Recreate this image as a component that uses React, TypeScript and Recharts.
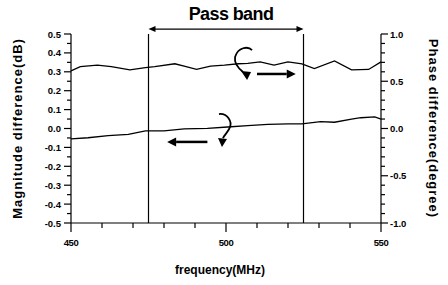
import React from 'react'
import {
  ComposedChart, Line, XAxis, YAxis, ReferenceLine, ReferenceDot
} from 'recharts'

const FONT = '"Liberation Sans", Arial, sans-serif'

// phase difference (right axis, degree)
const phaseFreq = [450, 453, 458.5, 463, 469, 474, 477, 483.5, 486.5, 490.5, 495, 499.5, 504, 507, 511, 515.5, 520, 524.5, 528.5, 535, 540.5, 546, 550]
const phaseValues = [0.61, 0.655, 0.67, 0.655, 0.62, 0.645, 0.655, 0.685, 0.66, 0.625, 0.66, 0.67, 0.685, 0.69, 0.705, 0.67, 0.705, 0.685, 0.635, 0.715, 0.62, 0.625, 0.705]

// magnitude difference (left axis, dB)
const magFreq = [450, 455.5, 462, 468.5, 474, 480, 486.5, 494, 500.5, 507, 513.5, 520, 524.5, 530.5, 535, 540.5, 543.5, 548, 550]
const magValues = [-0.055, -0.049, -0.038, -0.031, -0.013, -0.013, -0.002, 0.001, 0.008, 0.015, 0.022, 0.025, 0.025, 0.036, 0.033, 0.05, 0.057, 0.061, 0.05]

const passBand = [475, 525]

const leftTicks = [-0.5, -0.45, -0.4, -0.35, -0.3, -0.25, -0.2, -0.15, -0.1, -0.05, 0, 0.05, 0.1, 0.15, 0.2, 0.25, 0.3, 0.35, 0.4, 0.45, 0.5]
const rightTicks = [-1, -0.9, -0.8, -0.7, -0.6, -0.5, -0.4, -0.3, -0.2, -0.1, 0, 0.1, 0.2, 0.3, 0.4, 0.5, 0.6, 0.7, 0.8, 0.9, 1]
const freqTicks = [450, 460, 470, 480, 490, 500, 510, 520, 530, 540, 550]

const phaseData = phaseFreq.map((f, i) => ({ f, v: phaseValues[i] }))
const magData = magFreq.map((f, i) => ({ f, v: magValues[i] }))

const isStep = (v: number, step: number) => Math.abs(v / step - Math.round(v / step)) < 1e-6

function LeftTick({ x, y, payload }: any) {
  const v = payload.value
  const major = isStep(v, 0.1)
  return (
    <g>
      <line x1={x - (major ? 7 : 4)} x2={x} y1={y} y2={y} stroke="#000" strokeWidth={1.2} />
      {major && (
        <text x={x - 10} y={y} textAnchor="end" dominantBaseline="central" fontSize={9.5} fontWeight="bold" fontFamily={FONT} fill="#000">
          {v.toFixed(1)}
        </text>
      )}
    </g>
  )
}

function RightTick({ x, y, payload }: any) {
  const v = payload.value
  const major = isStep(v, 0.5)
  return (
    <g>
      <line x1={x} x2={x + (major ? 7 : 4)} y1={y} y2={y} stroke="#000" strokeWidth={1.2} />
      {major && (
        <text x={x + 9} y={y} textAnchor="start" dominantBaseline="central" fontSize={9.5} fontWeight="bold" fontFamily={FONT} fill="#000">
          {v.toFixed(1)}
        </text>
      )}
    </g>
  )
}

function FreqTick({ x, y, payload }: any) {
  const v = payload.value
  const major = isStep(v, 50)
  return (
    <g>
      <line x1={x} x2={x} y1={y} y2={y + (major ? 9 : 5)} stroke="#000" strokeWidth={1.2} />
      {major && (
        <text x={x} y={y + 19} textAnchor="middle" dominantBaseline="central" fontSize={9.5} fontWeight="bold" fontFamily={FONT} fill="#000" letterSpacing={-0.5}>
          {v}
        </text>
      )}
    </g>
  )
}

// thin double arrow with the "Pass band" caption
function PassBandArrow({ x1, y1, x2 }: any) {
  return (
    <g>
      <line x1={x1 + 5} x2={x2 - 5} y1={y1} y2={y1} stroke="#000" strokeWidth={1.2} />
      <polygon points={`${x1},${y1} ${x1 + 7},${y1 - 3} ${x1 + 7},${y1 + 3}`} fill="#000" />
      <polygon points={`${x2},${y1} ${x2 - 7},${y1 - 3} ${x2 - 7},${y1 + 3}`} fill="#000" />
      <text x={(x1 + x2) / 2 + 5} y={y1 - 9} textAnchor="middle" fontSize={18} fontWeight="bold" letterSpacing={-0.6} fontFamily={FONT} fill="#000">
        Pass band
      </text>
    </g>
  )
}

// bold arrow pointing from (x1,y1) to (x2,y2)
function BoldArrow({ x1, y1, x2, y2 }: any) {
  const dir = x2 > x1 ? 1 : -1
  const hx = x2 - dir * 9
  return (
    <g>
      <line x1={x1} x2={hx} y1={y1} y2={y2} stroke="#000" strokeWidth={2.5} />
      <polygon points={`${x2},${y2} ${hx},${y2 - 4.5} ${hx},${y2 + 4.5}`} fill="#000" />
    </g>
  )
}

function CurlRight({ cx, cy }: any) {
  return (
    <g>
      <path d={`M ${cx - 3} ${cy - 12} C ${cx + 6} ${cy - 13} ${cx + 10} ${cy - 4} ${cx + 8} ${cy + 1} C ${cx + 7} ${cy + 5} ${cx + 3} ${cy + 8} ${cx + 1} ${cy + 12}`}
        fill="none" stroke="#000" strokeWidth={1.8} />
      <polygon points={`${cx - 4},${cy + 12} ${cx + 5},${cy + 13} ${cx},${cy + 21}`} fill="#000" />
    </g>
  )
}

function CurlLeft({ cx, cy }: any) {
  return (
    <g>
      <path d={`M ${cx + 9} ${cy - 13} C ${cx + 5} ${cy - 17} ${cx - 5} ${cy - 16} ${cx - 8} ${cy - 6} C ${cx - 9} ${cy} ${cx - 5} ${cy + 5} ${cx} ${cy + 9}`}
        fill="none" stroke="#000" strokeWidth={1.8} />
      <polygon points={`${cx - 2},${cy + 8} ${cx + 8},${cy + 9} ${cx + 4},${cy + 17}`} fill="#000" />
    </g>
  )
}

const LeftTitle = ({ viewBox }: any) => {
  const cx = viewBox.x + 17
  const cy = viewBox.y + viewBox.height / 2
  return (
    <text x={cx} y={cy} transform={`rotate(-90 ${cx} ${cy})`} textAnchor="middle" dominantBaseline="central"
      fontSize={13} fontWeight="bold" letterSpacing={1} fontFamily={FONT} fill="#000">
      Magnitude difference(dB)
    </text>
  )
}

const RightTitle = ({ viewBox }: any) => {
  const cx = viewBox.x + 52
  const cy = viewBox.y + viewBox.height / 2
  return (
    <text x={cx} y={cy} transform={`rotate(90 ${cx} ${cy})`} textAnchor="middle" dominantBaseline="central"
      fontSize={13} fontWeight="bold" letterSpacing={1} fontFamily={FONT} fill="#000">
      Phase difference(degree)
    </text>
  )
}

const BottomTitle = ({ viewBox }: any) => (
  <text x={viewBox.x + viewBox.width / 2 - 6} y={viewBox.y + 51} textAnchor="middle"
    fontSize={12} fontWeight="bold" fontFamily={FONT} fill="#000">
    frequency(MHz)
  </text>
)

export default function App() {
  return (
    <div style={{ position: 'absolute', left: 0, top: 0, width: 448, height: 285, background: '#fff' }}>
      <ComposedChart width={448} height={285} margin={{ top: 34, right: 0, bottom: 0, left: 0 }}>
        <XAxis xAxisId="main" dataKey="f" type="number" domain={[450, 550]} ticks={freqTicks} interval={0}
          height={62} tickSize={0} tickMargin={0} tickLine={false} tick={<FreqTick />}
          axisLine={{ stroke: '#000', strokeWidth: 1.2 }} allowDuplicatedCategory={false}
          label={<BottomTitle />} />
        <XAxis xAxisId="top" orientation="top" type="number" domain={[450, 550]} height={0}
          tick={false} tickLine={false} axisLine={{ stroke: '#000', strokeWidth: 1.2 }} />
        <YAxis yAxisId="left" type="number" domain={[-0.5, 0.5]} ticks={leftTicks} interval={0} width={71}
          tickSize={0} tickMargin={0} tickLine={false} tick={<LeftTick />}
          axisLine={{ stroke: '#000', strokeWidth: 1.2 }} label={<LeftTitle />} />
        <YAxis yAxisId="right" orientation="right" type="number" domain={[-1, 1]} ticks={rightTicks} interval={0} width={67}
          tickSize={0} tickMargin={0} tickLine={false} tick={<RightTick />}
          axisLine={{ stroke: '#000', strokeWidth: 1.2 }} label={<RightTitle />} />

        {passBand.map((f) => (
          <ReferenceLine key={f} xAxisId="main" yAxisId="left" x={f} stroke="#000" strokeWidth={1.2} />
        ))}

        <Line xAxisId="main" yAxisId="right" data={phaseData} dataKey="v" type="linear" stroke="#000"
          strokeWidth={1.3} dot={false} isAnimationActive={false} />
        <Line xAxisId="main" yAxisId="left" data={magData} dataKey="v" type="linear" stroke="#000"
          strokeWidth={1.3} dot={false} isAnimationActive={false} />

        <ReferenceLine xAxisId="main" yAxisId="left" ifOverflow="visible"
          segment={[{ x: passBand[0], y: 0.526 }, { x: passBand[1], y: 0.526 }]} shape={(p: any) => <PassBandArrow {...p} />} />
        <ReferenceLine xAxisId="main" yAxisId="left" ifOverflow="visible"
          segment={[{ x: 494, y: -0.071 }, { x: 481, y: -0.071 }]} shape={(p: any) => <BoldArrow {...p} />} />
        <ReferenceLine xAxisId="main" yAxisId="right" ifOverflow="visible"
          segment={[{ x: 510, y: 0.577 }, { x: 522.5, y: 0.577 }]} shape={(p: any) => <BoldArrow {...p} />} />
        <ReferenceDot xAxisId="main" yAxisId="left" x={498.7} y={0.013} ifOverflow="visible"
          shape={(p: any) => <CurlRight {...p} />} />
        <ReferenceDot xAxisId="main" yAxisId="right" x={505.5} y={0.693} ifOverflow="visible"
          shape={(p: any) => <CurlLeft {...p} />} />
      </ComposedChart>
    </div>
  )
}
